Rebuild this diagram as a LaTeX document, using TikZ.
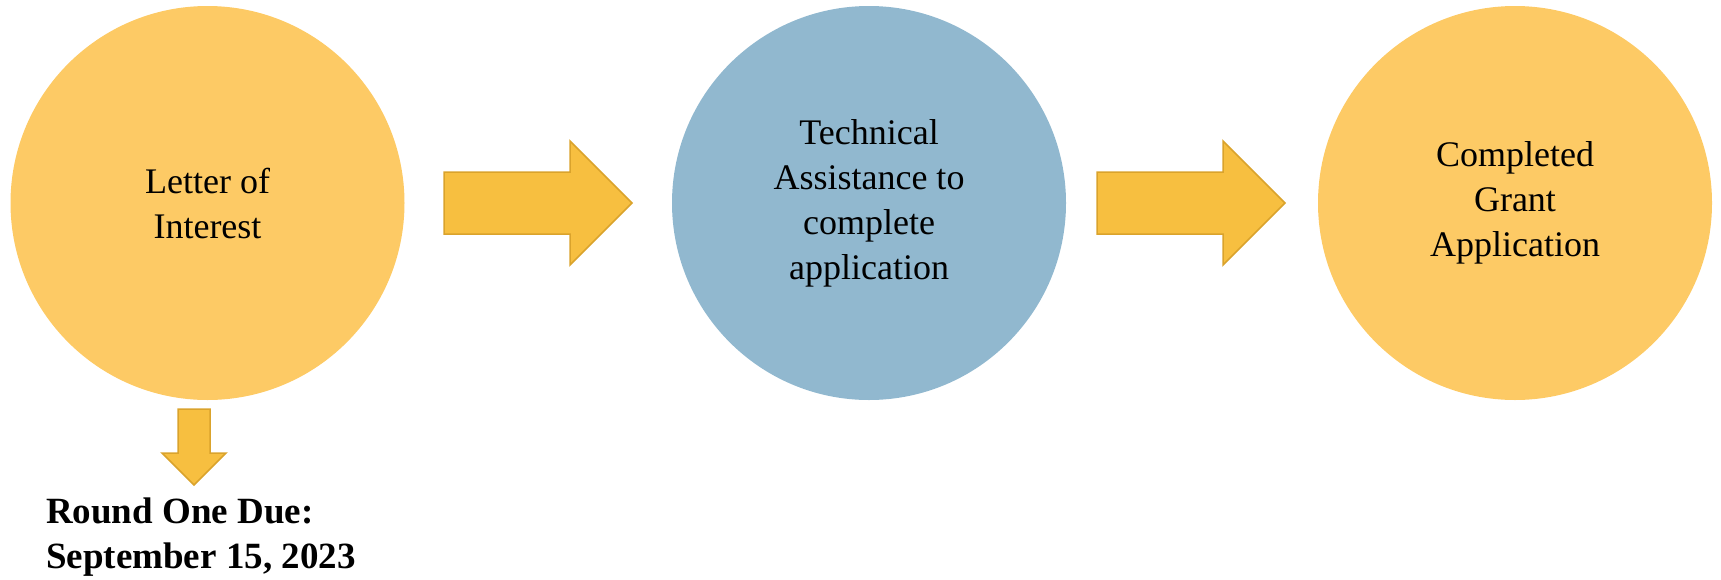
\documentclass[tikz,border=0pt]{standalone}
\usepackage{fontspec}
\setmainfont{Liberation Serif}
\usepackage{tikz}

\definecolor{goldcircle}{RGB}{253,202,101}
\definecolor{bluecircle}{RGB}{145,184,207}
\definecolor{arrowfill}{RGB}{247,191,64}
\definecolor{arrowedge}{RGB}{218,163,44}

\tikzset{
  bubble/.style={circle, minimum size=394pt, inner sep=0pt, align=center,
    font=\fontsize{36}{45}\selectfont, execute at begin node=\rule{0pt}{34pt}},
  blockarrow/.style={fill=arrowfill, draw=arrowedge, line width=1.5pt, line join=miter}
}

\begin{document}
\begin{tikzpicture}[x=1pt,y=-1pt]
  \useasboundingbox (0,0) rectangle (1721,579);

  \node [bubble, fill=goldcircle] (letter) at (207.5,203) {Letter of\\Interest};
  \node [bubble, fill=bluecircle] (assist) at (869,203) {Technical\\Assistance to\\complete\\application};
  \node [bubble, fill=goldcircle] (grant) at (1515,203) {Completed\\Grant\\Application};

  % block arrows
  \filldraw [blockarrow] (444,172) -- (570,172) -- (570,141) -- (632,203)
    -- (570,265) -- (570,234) -- (444,234) -- cycle;
  \filldraw [blockarrow] (1097,172) -- (1223,172) -- (1223,141) -- (1285,203)
    -- (1223,265) -- (1223,234) -- (1097,234) -- cycle;
  \filldraw [blockarrow] (178,409) -- (210,409) -- (210,453) -- (226,453)
    -- (194,485) -- (162,453) -- (178,453) -- cycle;

  \node [anchor=base west, align=left, inner sep=0pt,
    font=\fontsize{37}{45}\selectfont\bfseries] (due) at (46,568)
    {Round One Due:\\September 15, 2023};
\end{tikzpicture}
\end{document}
